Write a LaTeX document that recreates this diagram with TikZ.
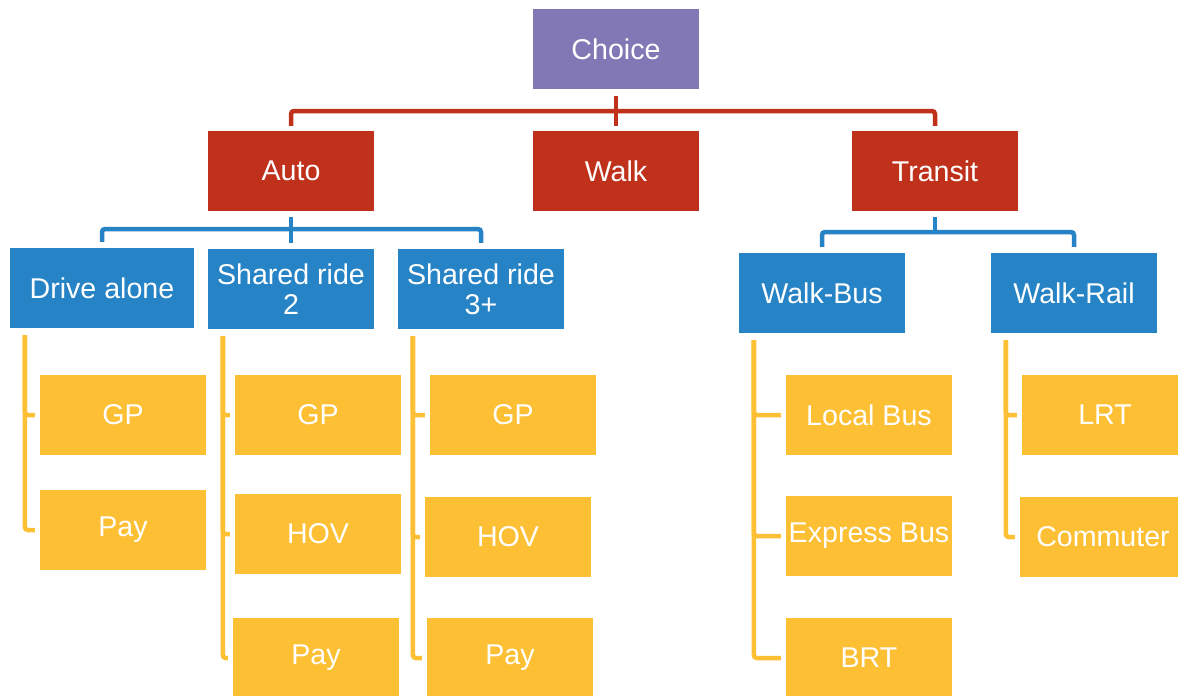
\documentclass[tikz,border=0pt]{standalone}
\usepackage{fontspec}
\setmainfont{Liberation Sans}
\usepackage{xcolor}
\usepackage{tikz}
\usetikzlibrary{positioning}

\definecolor{choicepurple}{HTML}{8278B6}
\definecolor{modered}{HTML}{BF311B}
\definecolor{subblue}{HTML}{2683C6}
\definecolor{leafyellow}{HTML}{FDBF33}

\begin{document}
\begin{tikzpicture}[
    x=1pt, y=-1pt,
    box/.style={minimum width=166pt, minimum height=80pt, inner sep=0pt, text=white, align=center, font=\fontsize{28.6}{30}\selectfont},
    top/.style={box, fill=choicepurple},
    mode/.style={box, fill=modered},
    sub/.style={box, fill=subblue},
    leaf/.style={box, fill=leafyellow},
    redln/.style={draw=modered, line width=4.5pt, rounded corners=3pt},
    bluln/.style={draw=subblue, line width=4.5pt, rounded corners=3pt},
    yelln/.style={draw=leafyellow, line width=4.5pt, rounded corners=3pt},
]
\useasboundingbox (0,0) rectangle (1178,696);
\node[top] (choice) at (616,49) {Choice};
\node[mode] (auto) at (291,171) {Auto};
\node[mode] (walk) at (616,171) {Walk};
\node[mode] (transit) at (935,171) {Transit};
\node[sub, minimum width=184pt] (drive) at (102,288) {Drive alone};
\node[sub] (sr2) at (291,289) {Shared ride\\2};
\node[sub] (sr3) at (481,289) {Shared ride\\3+};
\node[sub] (wbus) at (822,293) {Walk-Bus};
\node[sub] (wrail) at (1074,293) {Walk-Rail};
\node[leaf] (dgp) at (123,415) {GP};
\node[leaf] (dpay) at (123,530) {Pay};
\node[leaf] (s2gp) at (318,415) {GP};
\node[leaf] (s2hov) at (318,534) {HOV};
\node[leaf] (s2pay) at (316,658) {Pay};
\node[leaf] (s3gp) at (513,415) {GP};
\node[leaf] (s3hov) at (508,537) {HOV};
\node[leaf] (s3pay) at (510,658) {Pay};
\node[leaf] (lbus) at (869,415) {Local Bus};
\node[leaf] (xbus) at (869,536) {Express Bus};
\node[leaf] (brt) at (869,658) {BRT};
\node[leaf] (lrt) at (1105,415) {LRT};
\node[leaf] (comm) at (1103,537) {Commuter};
% first level
\coordinate (redbar) at (616,111);
\draw[redln] ([yshift=-7pt]choice.south) -- ([yshift=5pt]walk.north);
\draw[redln] ([yshift=5pt]auto.north) |- (redbar) -| ([yshift=5pt]transit.north);
% second level
\coordinate (autobar) at (291,229);
\coordinate (transbar) at (935,232);
\draw[bluln] ([yshift=-6pt]auto.south) -- ([yshift=6pt]sr2.north);
\draw[bluln] ([yshift=6pt]drive.north) |- (autobar) -| ([yshift=6pt]sr3.north);
\draw[bluln] ([yshift=-6pt]transit.south) -- (transbar);
\draw[bluln] ([yshift=6pt]wbus.north) |- (transbar) -| ([yshift=6pt]wrail.north);
% facilities
\foreach \p/\c in {drive/dgp, drive/dpay, sr2/s2gp, sr2/s2hov, sr2/s2pay,
    sr3/s3gp, sr3/s3hov, sr3/s3pay, wbus/lbus, wbus/xbus, wbus/brt,
    wrail/lrt, wrail/comm}
  \draw[yelln] ([xshift=15pt, yshift=-7pt]\p.south west) |- ([xshift=-5pt]\c.west);
\end{tikzpicture}
\end{document}
